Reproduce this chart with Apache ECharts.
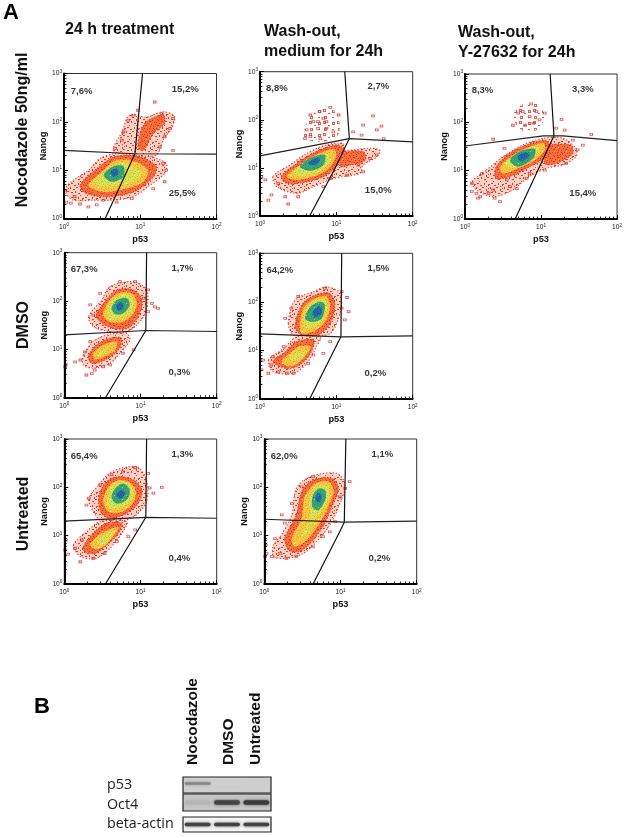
<!DOCTYPE html>
<html><head><meta charset="utf-8">
<script src="https://cdn.jsdelivr.net/npm/echarts@6/dist/echarts.min.js"></script>
<style>html,body{margin:0;padding:0;background:#fff}#c{width:625px;height:838px}</style></head>
<body><div id="c"></div>
<script>
// ---- data: all cloud / gate values are log10(p53), log10(Nanog) ----
const cloudsP1=[
[0,[[.01,.59],[.12,.79],[.32,1.0],[.47,1.24],[.65,1.34],[.91,1.34],[1.08,1.31],[1.34,1.14],[1.32,.93],[1.13,.69],[.91,.45],[.65,.38],[.38,.38],[.12,.38]]],
[0,[[.65,1.41],[.76,1.79],[.86,2.14],[1.08,2.10],[1.3,2.21],[1.45,2.11],[1.41,1.86],[1.3,1.62],[1.21,1.31],[.95,1.31]]],
[1,[[1.08,2.0],[1.3,2.14],[1.32,1.97],[1.17,1.76],[1.04,1.41],[.97,1.48],[1.0,1.76]]],
[1,[[.21,.69],[.43,1.03],[.67,1.28],[1.0,1.28],[1.21,1.07],[1.17,.86],[.91,.55],[.55,.45],[.29,.52]]],
[2,[[.32,.69],[.52,1.0],[.69,1.21],[.95,1.17],[1.1,1.0],[1.04,.76],[.82,.62],[.52,.55]]],
[3,[[.41,.76],[.56,1.0],[.73,1.14],[.91,1.07],[1.02,.93],[.91,.76],[.69,.69],[.47,.66]]],
[4,[[.52,.9],[.65,1.08],[.78,1.08],[.78,.86],[.62,.76]]],
[5,[[.61,.97],[.69,1.03],[.71,.93],[.65,.86]]]];
const cloudsP2=[
[0,[[.17,.82],[.39,1.06],[.61,1.3],[.87,1.48],[1.09,1.51],[1.11,1.37],[1.44,1.41],[1.57,1.37],[1.53,1.23],[1.35,1.06],[1.31,.89],[.96,.78],[.7,.61],[.48,.47],[.22,.61]]],
[6,[[.59,1.61],[.66,2.07],[.92,2.27],[1.05,1.86],[.96,1.58]]],
[1,[[1.09,1.3],[1.35,1.34],[1.38,1.16],[1.18,1.06],[1.05,1.03]]],
[1,[[.28,.82],[.48,1.09],[.74,1.34],[1.0,1.48],[1.09,1.41],[1.03,1.09],[.87,.85],[.61,.71],[.35,.68]]],
[2,[[.35,.82],[.52,1.06],[.76,1.29],[.96,1.39],[1.0,1.27],[.9,.99],[.7,.82],[.48,.75]]],
[3,[[.44,.92],[.59,1.13],[.79,1.27],[.92,1.27],[.9,1.09],[.72,.89],[.52,.82]]],
[4,[[.52,1.03],[.66,1.2],[.85,1.27],[.83,1.06],[.66,.94]]],
[5,[[.63,1.09],[.72,1.2],[.79,1.18],[.72,1.06]]]];
const cloudsP3=[
[0,[[.28,1.01],[.5,1.29],[.76,1.53],[1.03,1.67],[1.29,1.67],[1.46,1.46],[1.46,1.29],[1.29,1.12],[1.07,1.05],[.81,.84],[.63,.6],[.37,.46],[.15,.6],[.09,.77]]],
[6,[[.63,2.12],[.74,2.36],[.94,2.39],[1.05,2.12],[.94,1.84],[.74,1.84]]],
[1,[[1.07,1.5],[1.38,1.53],[1.42,1.36],[1.2,1.15],[1.05,1.15]]],
[1,[[.41,1.08],[.59,1.36],[.81,1.53],[1.05,1.63],[1.11,1.53],[1.03,1.26],[.81,1.05],[.59,.88],[.41,.84]]],
[2,[[.46,1.08],[.63,1.32],[.83,1.48],[1.03,1.57],[1.05,1.43],[.92,1.22],[.7,1.05],[.5,.94]]],
[3,[[.52,1.15],[.68,1.36],[.9,1.5],[.98,1.43],[.85,1.22],[.63,1.05]]],
[4,[[.59,1.22],[.74,1.41],[.92,1.45],[.9,1.26],[.7,1.08]]],
[5,[[.69,1.29],[.79,1.38],[.85,1.32],[.74,1.19]]]];
const cloudsP4=[
[0,[[.32,1.68],[.49,2.02],[.6,2.3],[.91,2.4],[1.08,2.23],[1.08,1.81],[.95,1.5],[.77,1.33],[.58,1.37],[.38,1.47]]],
[0,[[.25,.88],[.38,1.16],[.56,1.3],[.82,1.33],[.86,1.19],[.73,.92],[.6,.71],[.38,.61],[.25,.68]]],
[1,[[.42,1.68],[.55,2.02],[.69,2.23],[.91,2.23],[1.02,2.02],[.97,1.68],[.82,1.43],[.58,1.47]]],
[1,[[.32,.88],[.45,1.12],[.6,1.23],[.75,1.23],[.71,.99],[.53,.78],[.36,.71]]],
[2,[[.51,1.71],[.58,1.99],[.71,2.16],[.88,2.16],[.95,1.99],[.91,1.74],[.77,1.57],[.6,1.57]]],
[2,[[.38,.92],[.51,1.09],[.69,1.16],[.67,.99],[.53,.85],[.4,.79]]],
[3,[[.56,1.71],[.6,1.95],[.73,2.12],[.86,2.12],[.91,1.95],[.86,1.74],[.73,1.64],[.6,1.61]]],
[3,[[.45,.95],[.56,1.02],[.53,.92],[.46,.88]]],
[4,[[.62,1.85],[.69,2.02],[.82,2.06],[.86,1.92],[.77,1.74],[.67,1.73]]],
[5,[[.68,1.92],[.75,1.97],[.78,1.86],[.71,1.8]]]];
const cloudsP5=[
[0,[[.37,1.56],[.46,2.04],[.7,2.21],[.87,2.31],[1.05,2.18],[1.05,1.77],[.92,1.35],[.66,1.32],[.44,1.32]]],
[0,[[.11,.8],[.31,1.04],[.48,1.28],[.79,1.28],[.74,1.08],[.61,.73],[.44,.53],[.17,.56]]],
[1,[[.46,1.49],[.55,1.94],[.72,2.14],[.9,2.18],[.98,1.97],[.92,1.56],[.76,1.32],[.55,1.32]]],
[1,[[.17,.77],[.33,.97],[.48,1.18],[.7,1.21],[.66,.94],[.52,.7],[.35,.63]]],
[2,[[.52,1.49],[.57,1.87],[.72,2.07],[.87,2.11],[.92,1.9],[.85,1.59],[.7,1.39],[.55,1.35]]],
[2,[[.28,.77],[.39,.94],[.5,1.08],[.66,1.08],[.59,.87],[.46,.7],[.35,.68]]],
[3,[[.58,1.56],[.6,1.83],[.73,2.04],[.85,2.04],[.88,1.83],[.81,1.59],[.66,1.46]]],
[3,[[.39,.84],[.5,.97],[.59,.97],[.52,.84],[.44,.79]]],
[4,[[.59,1.66],[.66,1.9],[.79,2.0],[.85,1.94],[.81,1.66],[.68,1.59]]],
[5,[[.69,1.8],[.78,1.91],[.81,1.76],[.72,1.68]]]];
const cloudsP6=[
[0,[[.32,1.74],[.45,2.05],[.62,2.32],[.95,2.43],[1.08,2.15],[1.08,1.7],[.91,1.39],[.69,1.29],[.47,1.32]]],
[0,[[.12,.81],[.29,1.08],[.47,1.29],[.82,1.29],[.77,1.08],[.6,.74],[.42,.53],[.21,.57]]],
[1,[[.45,1.74],[.53,2.08],[.71,2.22],[.91,2.15],[1.02,1.94],[.97,1.67],[.82,1.46],[.6,1.36],[.49,1.46]]],
[1,[[.25,.77],[.38,1.05],[.56,1.26],[.75,1.26],[.71,1.05],[.56,.81],[.4,.63],[.27,.67]]],
[2,[[.51,1.74],[.6,2.05],[.73,2.15],[.88,2.08],[.94,1.88],[.88,1.63],[.73,1.48],[.58,1.5]]],
[2,[[.34,.81],[.45,1.01],[.62,1.15],[.71,1.17],[.64,.98],[.51,.77],[.4,.72]]],
[3,[[.56,1.74],[.63,2.02],[.75,2.12],[.86,2.05],[.91,1.88],[.84,1.67],[.72,1.57],[.6,1.58]]],
[3,[[.42,.88],[.56,1.05],[.64,1.1],[.6,.94],[.49,.81]]],
[4,[[.62,1.81],[.67,1.98],[.77,2.08],[.85,1.98],[.85,1.81],[.77,1.69],[.67,1.67]]],
[5,[[.68,1.84],[.74,1.94],[.8,1.88],[.73,1.76]]]];
const cloudsP7=[
[0,[[.21,.98],[.36,1.43],[.42,1.98],[.6,2.22],[.95,2.29],[1.06,2.05],[.97,1.57],[.86,1.22],[.69,.88],[.51,.63],[.29,.53],[.12,.57],[.12,.81]]],
[1,[[.27,.94],[.42,1.43],[.49,1.91],[.64,2.15],[.88,2.19],[.97,1.98],[.88,1.57],[.77,1.19],[.6,.84],[.45,.67],[.32,.7]]],
[2,[[.36,.94],[.49,1.36],[.53,1.81],[.67,2.08],[.84,2.12],[.91,1.94],[.84,1.6],[.71,1.22],[.56,.91],[.4,.77]]],
[3,[[.47,.98],[.6,1.36],[.59,1.74],[.69,2.01],[.82,2.05],[.86,1.91],[.8,1.6],[.64,1.29],[.56,1.05]]],
[4,[[.63,1.6],[.64,1.84],[.72,1.98],[.8,1.94],[.8,1.74],[.71,1.53]]],
[5,[[.67,1.74],[.7,1.88],[.75,1.84],[.73,1.69]]]];

const speckP1=[[.03,.34],[.09,.32],[.32,.24],[.43,.28],[.14,.45],[.02,.57],[.21,.3],[.52,.38],[.69,.34],[.89,.41],[1.17,.62],[1.32,.76],[1.34,1.0],[1.3,1.14],[1.43,1.41],[1.19,2.41],[1.28,2.17],[1.43,2.07],[.91,2.14],[.84,2.03],[.78,1.79],[.67,1.45],[.76,1.62],[.97,2.24],[1.39,1.86],[1.32,1.69],[1.26,1.48]];
const speckP2=[[.66,2.1],[.78,2.17],[.92,2.26],[.83,2.03],[.76,1.96],[.87,1.96],[.7,1.96],[.61,1.79],[.76,1.82],[.87,1.82],[.66,1.65],[.79,1.61],[.59,1.61],[.96,1.75],[1.03,2.1],[1.22,1.75],[1.33,1.68],[1.59,1.87],[1.53,1.79],[1.62,1.61],[1.48,2.08],[1.35,1.89],[.02,.82],[.07,.75],[.15,.44],[.11,.33],[.37,.25],[.33,.4],[.5,.4],[.24,.68],[.83,.61],[.92,.78],[1.14,.85],[1.35,.92],[1.53,1.27],[1.44,1.2],[1.29,1.06]];
const speckP3=[[.87,2.38],[.76,2.22],[.7,2.19],[.94,2.22],[.85,2.12],[.63,1.94],[.79,1.94],[.9,1.98],[.98,2.05],[1.05,2.19],[1.27,2.06],[1.31,1.84],[1.2,1.88],[1.66,1.75],[.37,1.65],[.52,1.46],[.09,.74],[.09,.57],[.15,.53],[.2,.46],[.17,.43],[.22,.94],[.31,.53],[.39,.43],[.46,.36],[.37,.6],[.59,.67],[.68,.63],[.81,.84],[.55,.81],[.85,.94],[1.05,1.01],[1.33,1.15],[1.48,1.43],[1.55,1.53],[1.42,1.63]];
const speckP4=[[.47,2.16],[.34,1.92],[.38,1.71],[1.1,2.23],[1.04,2.06],[1.23,1.85],[1.19,1.88],[1.1,1.78],[1.15,1.95],[.73,2.4],[.93,2.4],[.01,.64],[.02,.68],[.14,.74],[.21,.78],[.29,.47],[.36,.5],[.4,.57],[.6,.68],[.77,.92],[.91,.99],[.27,.95],[.34,1.16],[.51,.64]];
const speckP5=[[1.07,2.21],[1.14,2.09],[1.16,1.8],[1.07,1.87],[1.11,1.63],[.85,2.28],[.5,2.11],[.33,1.66],[.41,1.87],[.02,.6],[.04,.8],[.11,.53],[.35,.53],[.24,.56],[.44,.53],[.63,.73],[.7,.91],[.83,.94],[.92,1.18],[.17,.87],[.31,1.08],[.15,.7]];
const speckP6=[[1.28,2.0],[1.17,1.88],[1.12,1.99],[1.1,2.29],[.93,2.41],[.77,2.32],[.62,2.26],[.47,2.05],[.32,1.77],[.29,1.63],[.02,.91],[.01,.7],[.05,.62],[.21,.46],[.14,.74],[.38,.53],[.53,.63],[.69,.88],[.84,.98],[.93,1.12],[.23,.91]];
const speckP7=[[1.12,2.12],[1.06,1.98],[.99,1.8],[.64,2.22],[.49,2.01],[.36,1.67],[.23,1.43],[.27,1.26],[.14,.94],[.02,.81],[.03,.63],[.01,.57],[.21,.63],[.29,.53],[.42,.57],[.64,.77],[.77,.98],[.93,1.29],[.86,1.08],[.1,.57]];

const gateV=[
[[1.03,3],[.93,1.34],[.54,0]],
[[1.11,3],[1.17,1.61],[.96,.92],[.65,0]],
[[1.12,3],[1.17,1.72],[.98,1.08],[.66,0]],
[[1.08,3],[1.07,1.39],[.54,0]],
[[1.07,3],[1.06,1.28],[.995,1.08],[.65,0]],
[[1.08,3],[1.07,1.38],[.54,0]],
[[1.07,3],[1.05,1.28],[.99,1.08],[.64,0]]];
const gateH=[
[[0,1.41],[.93,1.34],[2,1.33]],
[[0,1.25],[1.17,1.61],[2,1.54]],
[[0,1.51],[1.03,1.72],[1.29,1.72],[2,1.62]],
[[0,1.3],[1.07,1.39],[2,1.37]],
[[0,1.34],[1.06,1.28],[2,1.3]],
[[0,1.3],[1.07,1.38],[2,1.36]],
[[0,1.34],[1.05,1.28],[2,1.3]]];
const pctText=[
["7,6%","15,2%","25,5%"],["8,8%","2,7%","15,0%"],["8,3%","3,3%","15,4%"],
["67,3%","1,7%","0,3%"],["64,2%","1,5%","0,2%"],["65,4%","1,3%","0,4%"],["62,0%","1,1%","0,2%"]];
const pctSpotUL=[[.23,2.63],[.22,2.65],[.23,2.66],[.26,2.66],[.26,2.64],[.26,2.65],[.26,2.65]];
const pctSpotUR=[[1.59,2.68],[1.55,2.69],[1.55,2.69],[1.55,2.68],[1.55,2.68],[1.55,2.68],[1.55,2.68]];
const pctSpotLR=[[1.55,.52],[1.55,.53],[1.55,.53],[1.51,.53],[1.51,.53],[1.51,.53],[1.51,.53]];

const xDecades=[1,10,100];
const yDecades=[1,10,100,1000];
const xAllTicks=[1,2,3,4,5,6,7,8,9,10,20,30,40,50,60,70,80,90,100];
const yAllTicks=[1,2,3,4,5,6,7,8,9,10,20,30,40,50,60,70,80,90,100,200,300,400,500,600,700,800,900,1000];

const blotNames=["p53","Oct4","beta-actin"];
const laneNames=["Nocodazole","DMSO","Untreated"];
const bandP53=[.4,.03,.04];
const bandOct4=[.16,.72,.76];
const bandActin=[.72,.72,.72];

// ---- layout & style ----
const gridBoxes=[[64,73.5,152.5,145],[260,71.7,152.7,144.3],[465,74,152.7,145],[64.3,252.7,152.4,145],[260,253.3,152.7,145.7],[64.3,439,152.4,145],[264.3,439,152.4,145]];
const cloudsAll=[cloudsP1,cloudsP2,cloudsP3,cloudsP4,cloudsP5,cloudsP6,cloudsP7];
const specksAll=[speckP1,speckP2,speckP3,speckP4,speckP5,speckP6,speckP7];
const flecks=[
"..#.....#...",
".....##.....",
"#.........#.",
"...#..o.....",
".......#...#",
".##.........",
"......#..#..",
"..o.........",
"#....#...#..",
"...#......#.",
"........#...",
".#...#......"];
const rings=[
"..............",
".##.....#.....",
"........#...##",
"....##......#.",
"..........#...",
"#.....##......",
"#...........#.",
"...##.....#...",
"..........#...",
".....#.....##.",
".##..#........",
"........##....",
"..............",
"...#......#..."];
const sparse=[
"..............",
".###..........",
".#.#......###.",
".###......#.#.",
"..........###.",
"......##......",
"..............",
"..............",
"..###.........",
"..#.#.....##..",
"..###.........",
".............."];
function texture(rows,base,fleck,hole){
  const c=document.createElement('canvas');c.width=rows[0].length;c.height=rows.length;
  const g=c.getContext('2d');g.fillStyle=base;g.fillRect(0,0,c.width,c.height);
  rows.forEach((r,y)=>[...r].forEach((ch,x)=>{if(ch!=='.'){g.fillStyle=ch==='o'?hole:fleck;g.fillRect(x,y,1,1);}}));
  return {image:c,repeat:'repeat'};
}
const levelFill=[
 texture(rings,'#fbd3c6','#e63a2e','#fff'),
 texture(flecks,'#f4703a','#e22f22','#f9b24a'),
 texture(flecks,'#f8c93e','#f59a34','#fff3a0'),
 texture(flecks,'#dfe24c','#9ccb55','#fff'),
 texture(flecks,'#3aa56e','#1f8a8c','#a5d65a'),
 texture(flecks,'#2468a8','#2a45a0','#19a08c'),
 texture(sparse,'rgba(255,255,255,0)','#e8584c','#fff')];
const levelStroke=['#e2372c','#e8402c',null,null,null,null,null];
const levelDash=[[1.2,2],[1.5,1.5],null,null,null,null,null];

const toLin=p=>[Math.pow(10,p[0]),Math.pow(10,p[1])];
const option={animation:false,backgroundColor:'#fff',grid:[],xAxis:[],yAxis:[],series:[],graphic:[]};

const supRich={s:{fontSize:4.6,fontFamily:'Liberation Sans',verticalAlign:'top',padding:[0,0,4,0],color:'#222'},b:{fontSize:6.6,fontFamily:'Liberation Sans',color:'#222'}};
const decadeLabel=v=>'{b|10}{s|'+Math.round(Math.log10(v))+'}';
const nameStyle={fontFamily:'Liberation Sans',fontWeight:'bold',fontSize:9.2,color:'#111'};

gridBoxes.forEach((g,i)=>{
  option.grid.push({left:g[0],top:g[1],width:g[2],height:g[3],show:true,borderColor:'#333',borderWidth:1,backgroundColor:'transparent'});
  const xi=option.xAxis.length,yi=option.yAxis.length;
  const axisX={type:'log',logBase:10,min:1,max:100,gridIndex:i,position:'bottom',splitLine:{show:false},z:5};
  const axisY={type:'log',logBase:10,min:1,max:1000,gridIndex:i,position:'left',splitLine:{show:false},z:5};
  option.xAxis.push(Object.assign({},axisX,{name:'p53',nameLocation:'middle',nameGap:16,nameTextStyle:nameStyle,
    axisLine:{show:true,lineStyle:{color:'#000',width:2}},axisTick:{show:true,inside:true,length:4,customValues:xDecades,lineStyle:{color:'#000',width:1}},
    axisLabel:{show:true,margin:4,customValues:xDecades,formatter:decadeLabel,rich:supRich,hideOverlap:false}}));
  option.xAxis.push(Object.assign({},axisX,{axisLine:{show:false},axisTick:{show:true,inside:true,length:2.5,customValues:xAllTicks,lineStyle:{color:'#000',width:.8}},axisLabel:{show:false}}));
  option.yAxis.push(Object.assign({},axisY,{name:'Nanog',nameLocation:'middle',nameGap:10,nameRotate:90,nameTextStyle:nameStyle,
    axisLine:{show:true,lineStyle:{color:'#000',width:2}},axisTick:{show:true,inside:true,length:4,customValues:yDecades,lineStyle:{color:'#000',width:1}},
    axisLabel:{show:true,margin:2,customValues:yDecades,formatter:decadeLabel,rich:supRich,hideOverlap:false}}));
  option.yAxis.push(Object.assign({},axisY,{axisLine:{show:false},axisTick:{show:true,inside:true,length:2.5,customValues:yAllTicks,lineStyle:{color:'#000',width:.8}},axisLabel:{show:false}}));

  const clouds=cloudsAll[i];
  option.series.push({type:'custom',coordinateSystem:'cartesian2d',xAxisIndex:xi,yAxisIndex:yi,z:2,silent:true,clip:true,
    data:clouds.map(c=>toLin(c[1][0])),
    renderItem:(params,api)=>{
      const c=clouds[params.dataIndex],lv=c[0];
      return {type:'polygon',shape:{points:c[1].map(p=>api.coord(toLin(p))),smooth:.3},
        style:{fill:levelFill[lv],stroke:levelStroke[lv],lineWidth:lv<2?1.1:0,lineDash:levelDash[lv]}};
    }});
  option.series.push({type:'scatter',xAxisIndex:xi,yAxisIndex:yi,z:3,silent:true,symbol:'rect',symbolSize:[2.6,2],
    data:specksAll[i].map(toLin),itemStyle:{color:'rgba(255,255,255,0)',borderColor:'#d8352c',borderWidth:.8}});
  option.series.push({type:'line',xAxisIndex:xi,yAxisIndex:yi,z:4,silent:true,showSymbol:false,data:gateV[i].map(toLin),lineStyle:{color:'#111',width:1.2}});
  option.series.push({type:'line',xAxisIndex:xi,yAxisIndex:yi,z:4,silent:true,showSymbol:false,data:gateH[i].map(toLin),lineStyle:{color:'#222',width:1.2}});
  option.series.push({type:'scatter',xAxisIndex:xi,yAxisIndex:yi,z:6,silent:true,symbolSize:0,
    data:[pctSpotUL[i],pctSpotUR[i],pctSpotLR[i]].map((p,k)=>({value:toLin(p),name:pctText[i][k]})),
    label:{show:true,position:'inside',formatter:'{b}',fontFamily:'Liberation Sans',fontWeight:'bold',fontSize:9.5,color:'#000'}});
});

// western blots
const blotBoxes=[[183,777,88,16],[183,794,88,17],[183,817,88,15]];
const blotBg=['#cfcfcf','#c6c6c6','#f4f4f4'];
const blotVals=[bandP53,bandOct4,bandActin];
const blotBandHeight=[2.5,4.5,3.5];
blotBoxes.forEach((b,k)=>{
  const gi=option.grid.length,xi=option.xAxis.length,yi=option.yAxis.length;
  option.grid.push({left:b[0],top:b[1],width:b[2],height:b[3],show:true,backgroundColor:blotBg[k],borderColor:'#222',borderWidth:1.2});
  option.xAxis.push({type:'category',gridIndex:gi,data:laneNames,axisLine:{show:false},axisTick:{show:false},axisLabel:{show:false}});
  option.yAxis.push({type:'value',gridIndex:gi,min:0,max:1,axisLine:{show:false},axisTick:{show:false},axisLabel:{show:false},splitLine:{show:false}});
  option.series.push({type:'custom',xAxisIndex:xi,yAxisIndex:yi,silent:true,z:2,
    data:blotVals[k].map((v,j)=>[laneNames[j],v]),
    renderItem:(params,api)=>{
      const c=api.coord([api.value(0),.5]);const w=api.size([1,0])[0]*.88;const h=blotBandHeight[k];
      const v=api.value(1);const g=Math.round(205*(1-v)+10);
      return {type:'rect',shape:{x:c[0]-w/2,y:c[1]-h/2+(k===0?-1.5:0),width:w,height:h,r:h/2},
        style:{fill:'rgb('+g+','+g+','+g+')',shadowBlur:3,shadowColor:'rgba('+g+','+g+','+g+',.9)'}};
    }});
});

// texts
const panelLetters=[["A",3,13],["B",34,707]];
const colTitles=[["24 h treatment",65,30],["Wash-out,",264,32],["medium for 24h",264,52],["Wash-out,",458,33],["Y-27632 for 24h",458,53]];
const rowTitles=[["Nocodazole 50ng/ml",23,130],["DMSO",24,325],["Untreated",24,514]];
const laneSpots=[193,228.5,256];
const blotSpots=[785,804.5,823.5];
panelLetters.forEach(t=>option.graphic.push({type:'text',x:t[1],y:t[2],style:{text:t[0],font:'bold 22px "Liberation Sans"',fill:'#000',textVerticalAlign:'middle'}}));
colTitles.forEach(t=>option.graphic.push({type:'text',x:t[1],y:t[2],style:{text:t[0],font:'bold 16px "Liberation Sans"',fill:'#111',textVerticalAlign:'middle'}}));
rowTitles.forEach(t=>option.graphic.push({type:'text',x:t[1],y:t[2],rotation:Math.PI/2,style:{text:t[0],font:'bold 16px "Liberation Sans"',fill:'#111',textAlign:'center',textVerticalAlign:'middle'}}));
laneNames.forEach((t,k)=>option.graphic.push({type:'text',x:laneSpots[k],y:765,rotation:Math.PI/2,style:{text:t,font:'bold 15.5px "Liberation Sans"',fill:'#111',textAlign:'left',textVerticalAlign:'middle'}}));
blotNames.forEach((t,k)=>option.graphic.push({type:'text',x:107,y:blotSpots[k],style:{text:t,font:'14.3px "Open Sans"',fill:'#222',textVerticalAlign:'middle'}}));

const chart=echarts.init(document.getElementById('c'),null,{renderer:'canvas'});
chart.setOption(option);
</script></body></html>
